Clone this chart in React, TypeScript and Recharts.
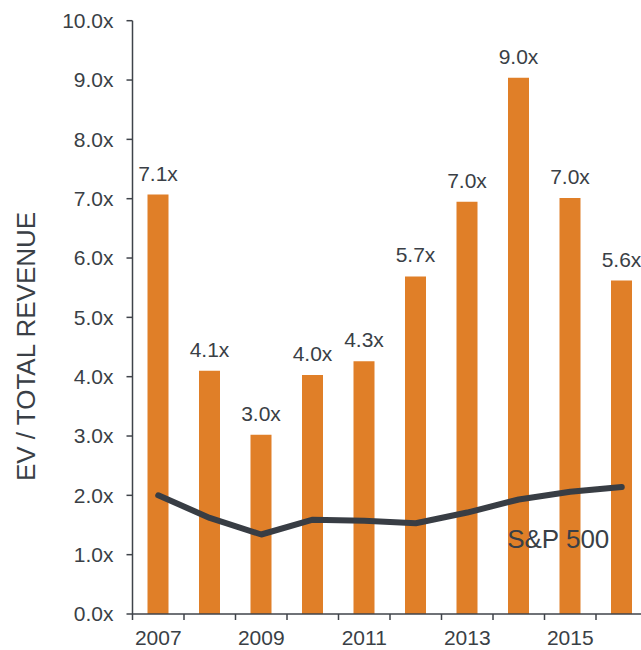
import {
  ComposedChart,
  Bar,
  Line,
  XAxis,
  YAxis,
  LabelList,
} from 'recharts';

const years = ['2007', '2008', '2009', '2010', '2011', '2012', '2013', '2014', '2015', '2016'];
const evRevenue = [7.07, 4.1, 3.02, 4.03, 4.26, 5.69, 6.95, 9.04, 7.01, 5.62];
const sp500 = [2.0, 1.62, 1.34, 1.59, 1.57, 1.53, 1.71, 1.93, 2.06, 2.14];
const yTicks = [0, 1, 2, 3, 4, 5, 6, 7, 8, 9, 10];

const data = years.map((year, i) => ({ year, ev: evRevenue[i], sp: sp500[i] }));

const TEXT = '#3a3f46';
const AXIS = '#3f434a';
const ORANGE = '#E07F28';
const FONT = '"Liberation Sans", Arial, sans-serif';
const BAND = 51.5; // width of one category on the x axis

function formatMultiple(v: number): string {
  return `${v.toFixed(1)}x`;
}

interface TickProps {
  x?: number;
  y?: number;
  index?: number;
  payload?: { value: string };
}

// tick marks sit on category boundaries, labels on every other category
function YearTick({ x = 0, y = 0, index = 0, payload }: TickProps) {
  const left = x - BAND / 2;
  return (
    <g>
      <line x1={left} x2={left} y1={y} y2={y + 6} stroke={AXIS} strokeWidth={1.5} />
      {index % 2 === 0 && (
        <text x={x} y={y + 31} textAnchor="middle" fontSize={21} fill={TEXT} fontFamily={FONT}>
          {payload?.value}
        </text>
      )}
    </g>
  );
}

interface LineLabelProps {
  x?: number;
  y?: number;
  index?: number;
}

function SpLabel({ x = 0, y = 0, index }: LineLabelProps) {
  if (index !== 8) return null;
  return (
    <text x={x - 12} y={y + 56} textAnchor="middle" fontSize={26} fill={TEXT} fontFamily={FONT}>
      S&amp;P 500
    </text>
  );
}

export default function App() {
  return (
    <div style={{ position: 'absolute', left: 0, top: 0, width: 641, height: 650, overflow: 'hidden', background: '#fff' }}>
      <ComposedChart
        width={660}
        height={650}
        data={data}
        margin={{ top: 20.7, right: 12.5, left: 0, bottom: 6 }}
        barCategoryGap={0}
      >
        <text
          x={26}
          y={346.5}
          transform="rotate(-90, 26, 346.5)"
          textAnchor="middle"
          dominantBaseline="central"
          fontSize={26}
          fill={TEXT}
          fontFamily={FONT}
        >
          EV / TOTAL REVENUE
        </text>
        <XAxis
          dataKey="year"
          interval={0}
          height={30}
          tickLine={false}
          tickSize={0}
          tickMargin={0}
          axisLine={{ stroke: AXIS, strokeWidth: 1.5 }}
          tick={<YearTick />}
        />
        <YAxis
          width={132.5}
          domain={[0, 10]}
          ticks={yTicks}
          tickFormatter={formatMultiple}
          tickSize={6}
          tickMargin={13}
          axisLine={{ stroke: AXIS, strokeWidth: 1.5 }}
          tickLine={{ stroke: AXIS, strokeWidth: 1.5 }}
          tick={{ fontSize: 21, fill: TEXT, fontFamily: FONT }}
        />
        <Bar dataKey="ev" fill={ORANGE} barSize={21} isAnimationActive={false}>
          <LabelList
            dataKey="ev"
            position="top"
            offset={14}
            formatter={(v: number) => formatMultiple(v)}
            style={{ fontSize: 21, fill: TEXT, fontFamily: FONT }}
          />
        </Bar>
        <Line
          dataKey="sp"
          type="linear"
          stroke="#383d44"
          strokeWidth={6}
          strokeLinecap="round"
          strokeLinejoin="round"
          dot={false}
          activeDot={false}
          label={<SpLabel />}
          isAnimationActive={false}
        />
      </ComposedChart>
    </div>
  );
}
